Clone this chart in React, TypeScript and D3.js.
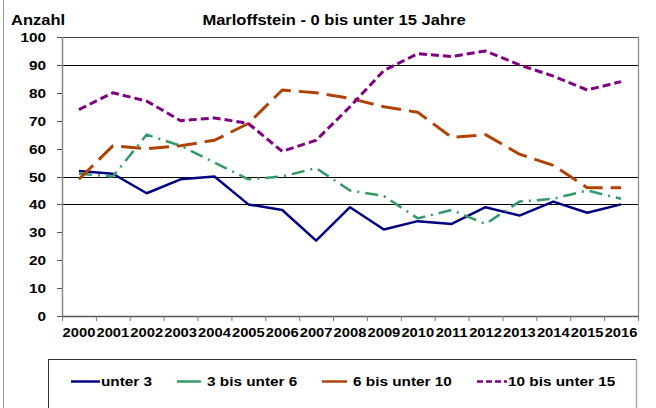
import React from "react";
import * as d3 from "d3";

const years = ["2000","2001","2002","2003","2004","2005","2006","2007","2008","2009","2010","2011","2012","2013","2014","2015","2016"];
const unter3 = [52, 51, 44, 49, 50, 40, 38, 27, 39, 31, 34, 33, 39, 36, 41, 37, 40];
const bis6 = [51, 50, 65, 61, 55, 49, 50, 53, 45, 43, 35, 38, 33, 41, 42, 45, 42];
const bis10 = [49, 61, 60, 61, 63, 69, 81, 80, 78, 75, 73, 64, 65, 58, 54, 46, 46];
const bis15 = [74, 80, 77, 70, 71, 69, 59, 63, 75, 88, 94, 93, 95, 90, 86, 81, 84];
const yTicks = [0, 10, 20, 30, 40, 50, 60, 70, 80, 90, 100];
const gridValues = [40, 50, 90];
const seriesNames = ["unter 3", "3 bis unter 6", "6 bis unter 10", "10 bis unter 15"];

const W = 656, H = 408;
const L = 62, R = 638, T = 37, B = 316;
const SX = 1.18;
const FONT = "'Liberation Sans', Arial, sans-serif";

function SText({ x, y, anchor = "start", size = 13, children }: any) {
  return (
    <text
      transform={`translate(${x},${y}) scale(${SX},1)`}
      textAnchor={anchor}
      fontFamily={FONT}
      fontWeight="bold"
      fontSize={size}
      fill="#000"
    >
      {children}
    </text>
  );
}

export default function App() {
  const x = d3.scaleBand<string>().domain(years).range([L, R]).padding(0);
  const y = d3.scaleLinear().domain([0, 100]).range([B, T]);
  const cx = (i: number) => (x(years[i]) as number) + x.bandwidth() / 2;
  const line = d3.line<number>().x((_, i) => cx(i)).y((d) => y(d));

  const series = [
    { data: unter3, color: "#000080", dash: "", width: 2.5, legendDash: "" },
    { data: bis6, color: "#339966", dash: "13 6 2 6", width: 2.5, legendDash: "" },
    { data: bis10, color: "#B04205", dash: "20 8", width: 3, legendDash: "" },
    { data: bis15, color: "#800080", dash: "8 4", width: 3, legendDash: "6 3" },
  ];

  const legendItems = [
    { x1: 71, x2: 100, tx: 101 },
    { x1: 177, x2: 201, tx: 207 },
    { x1: 322, x2: 347, tx: 353 },
    { x1: 477, x2: 507, tx: 508 },
  ];

  const bounds = x.domain().map((d) => x(d) as number).concat([R]);

  return (
    <svg width={W} height={H} style={{ position: "absolute", left: 0, top: 0, background: "#fff" }}>
      <rect x={0} y={0} width={W} height={H} fill="#fff" />
      <line x1={3.5} y1={0} x2={3.5} y2={H} stroke="#999" strokeWidth={1} />

      {/* Titles */}
      <SText x={11} y={25} size={14}>Anzahl</SText>
      <SText x={334} y={24.5} anchor="middle" size={14}>Marloffstein - 0 bis unter 15 Jahre</SText>

      {/* plot frame */}
      <line x1={L} y1={T + 0.5} x2={R} y2={T + 0.5} stroke="#444" strokeWidth={1} />
      <line x1={R + 0.5} y1={T} x2={R + 0.5} y2={B} stroke="#888" strokeWidth={1.2} />

      {/* grid lines */}
      {gridValues.map((v) => (
        <line key={v} x1={L} x2={R} y1={Math.round(y(v)) + 0.5} y2={Math.round(y(v)) + 0.5} stroke="#000" strokeWidth={1} />
      ))}

      {/* y axis */}
      <line x1={L + 0.5} y1={T} x2={L + 0.5} y2={B} stroke="#888" strokeWidth={1.5} />
      {yTicks.map((v) => (
        <g key={v}>
          <line x1={L - 5} x2={L} y1={Math.round(y(v)) + 0.5} y2={Math.round(y(v)) + 0.5} stroke="#555" strokeWidth={1} />
          <SText x={46} y={y(v) + 5} anchor="end" size={13}>{v}</SText>
        </g>
      ))}

      {/* x axis */}
      <line x1={L} y1={B + 0.5} x2={R + 1} y2={B + 0.5} stroke="#555" strokeWidth={1.5} />
      {bounds.map((bx, i) => (
        <line key={i} x1={bx + 0.5} x2={bx + 0.5} y1={B} y2={B + 5} stroke="#777" strokeWidth={1} />
      ))}
      {years.map((yr, i) => (
        <SText key={yr} x={cx(i)} y={337} anchor="middle" size={12.5}>{yr}</SText>
      ))}

      {/* series lines */}
      {series.map((s, k) => (
        <path
          key={k}
          d={line(s.data) || ""}
          fill="none"
          stroke={s.color}
          strokeWidth={s.width}
          strokeDasharray={s.dash || undefined}
          strokeLinejoin="round"
        />
      ))}

      {/* legend */}
      <rect x={48.5} y={359.5} width={588} height={70} fill="none" stroke="#333" strokeWidth={1} />
      <line x1={636.5} y1={359} x2={636.5} y2={H} stroke="#aaa" strokeWidth={1.5} />
      {series.map((s, k) => (
        <g key={k}>
          <line
            x1={legendItems[k].x1}
            x2={legendItems[k].x2}
            y1={381.5}
            y2={381.5}
            stroke={s.color}
            strokeWidth={2.5}
            strokeDasharray={s.legendDash || undefined}
          />
          <SText x={legendItems[k].tx} y={386} size={13}>{seriesNames[k]}</SText>
        </g>
      ))}
    </svg>
  );
}
